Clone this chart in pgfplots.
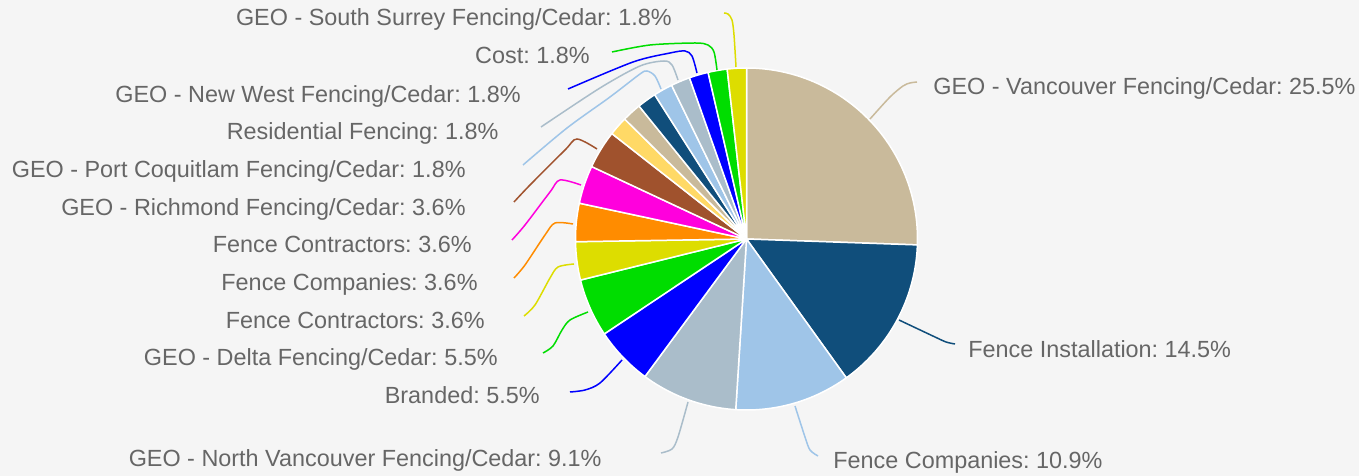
\documentclass[border=0pt]{standalone}
\usepackage{pgfplots}
\pgfplotsset{compat=1.18}
\usepackage{fontspec}
\setmainfont{Liberation Sans}
\frenchspacing
\definecolor{bgc}{HTML}{F5F5F5}
\definecolor{txt}{HTML}{666666}
\definecolor{sc0}{HTML}{C9BA9B}
\definecolor{sc1}{HTML}{104E7B}
\definecolor{sc2}{HTML}{9FC5E8}
\definecolor{sc3}{HTML}{AABDCA}
\definecolor{sc4}{HTML}{0000FF}
\definecolor{sc5}{HTML}{00DD00}
\definecolor{sc6}{HTML}{DDDD00}
\definecolor{sc7}{HTML}{FF8C00}
\definecolor{sc8}{HTML}{FF00DD}
\definecolor{sc9}{HTML}{A0522D}
\definecolor{sc10}{HTML}{FFD966}
\definecolor{sc11}{HTML}{C9BA9B}
\definecolor{sc12}{HTML}{104E7B}
\definecolor{sc13}{HTML}{9FC5E8}
\definecolor{sc14}{HTML}{AABDCA}
\definecolor{sc15}{HTML}{0000FF}
\definecolor{sc16}{HTML}{00DD00}
\definecolor{sc17}{HTML}{DDDD00}
\newcommand\lab{\fontsize{11.74}{14}\selectfont\frenchspacing}
% slice values (percent)
\newcommand\vals{25.5,14.5,10.9,9.1,5.5,5.5,3.6,3.6,3.6,3.6,1.8,1.8,1.8,1.8,1.8,1.8,1.8,1.8}
\begin{document}
\gdef\total{0}%
\foreach \v in \vals {\pgfmathsetmacro\nt{\total+\v}\xdef\total{\nt}}%
\gdef\cum{0}%
\foreach \v [count=\i from 0] in \vals {%
  \pgfmathsetmacro\s{90-3.6*(\cum*100/\total)}%
  \pgfmathsetmacro\nc{\cum+\v}%
  \pgfmathsetmacro\e{90-3.6*(\nc*100/\total)}%
  \expandafter\xdef\csname sa\i\endcsname{\s}%
  \expandafter\xdef\csname ea\i\endcsname{\e}%
  \xdef\cum{\nc}%
}%
\begin{tikzpicture}
\begin{axis}[
  x=0.5bp, y=0.5bp,
  xmin=0, xmax=1359, ymin=0, ymax=476,
  y dir=reverse,
  axis line style={draw=none},
  ticks=none,
  axis background/.style={fill=bgc},
  clip=false,
]
\pgfplotsinvokeforeach{0,...,17}{
  \addplot[fill=sc#1, draw=white, line width=0.75bp, line join=round,
    domain=\csname ea#1\endcsname:\csname sa#1\endcsname, samples=60]
    ({746.5+171*cos(x)},{239-171*sin(x)}) -- (axis cs:746.5,239) -- cycle;
}
% connectors
\addplot[sc0, line width=0.75bp, smooth] coordinates {(870,119) (890,97) (903,86) (910,83) (917,82)};
\addplot[sc1, line width=0.75bp, smooth] coordinates {(899,320) (935,337) (946,342) (955,344)};
\addplot[sc2, line width=0.75bp, smooth] coordinates {(795,406) (805,437) (810,450) (818,456)};
\addplot[sc3, line width=0.75bp, smooth] coordinates {(688,402) (678,437) (672,449) (661,453)};
\addplot[sc4, line width=0.75bp, smooth] coordinates {(622,360) (600,383) (585,390) (570,392)};
\addplot[sc5, line width=0.75bp, smooth] coordinates {(588,312) (570,320) (562,330) (553,346) (543,353)};
\addplot[sc6, line width=0.75bp, smooth] coordinates {(574,264) (558,267) (550,278) (535,305) (524,316)};
\addplot[sc7, line width=0.75bp, smooth] coordinates {(573,224) (555,223) (545,235) (525,265) (514,278)};
\addplot[sc8, line width=0.75bp, smooth] coordinates {(581,185) (560,180) (550,192) (525,225) (512,240)};
\addplot[sc9, line width=0.75bp, smooth] coordinates {(597,149) (577,139) (565,150) (530,185) (514,202)};
\addplot[sc13, line width=0.75bp, smooth] coordinates {(661,89) (655,76) (647,71) (640,74) (610,97) (567,128) (523,165)};
\addplot[sc14, line width=0.75bp, smooth] coordinates {(678,80) (672,65) (664,61) (640,66) (600,88) (541,127)};
\addplot[sc15, line width=0.75bp, smooth] coordinates {(697,73) (692,56) (685,51) (670,53) (633,62) (568,89)};
\addplot[sc16, line width=0.75bp, smooth] coordinates {(717,70) (714,52) (708,45) (695,43) (650,45) (612,52)};
\addplot[sc17, line width=0.75bp, smooth] coordinates {(736,67) (734,35) (732,20) (728,14) (724,13)};
% labels
\begin{scope}[every node/.style={font=\lab, text=txt, inner sep=0pt}]
\node[anchor=base west] at (axis cs:933,95) {GEO - Vancouver Fencing/Cedar: 25.5\%};
\node[anchor=base west] at (axis cs:968,358) {Fence Installation: 14.5\%};
\node[anchor=base west] at (axis cs:833,469) {Fence Companies: 10.9\%};
\node[anchor=base east] at (axis cs:602,467) {GEO - North Vancouver Fencing/Cedar: 9.1\%};
\node[anchor=base east] at (axis cs:540,404) {Branded: 5.5\%};
\node[anchor=base east] at (axis cs:498,366) {GEO - Delta Fencing/Cedar: 5.5\%};
\node[anchor=base east] at (axis cs:485,329) {Fence Contractors: 3.6\%};
\node[anchor=base east] at (axis cs:478,291) {Fence Companies: 3.6\%};
\node[anchor=base east] at (axis cs:472,253) {Fence Contractors: 3.6\%};
\node[anchor=base east] at (axis cs:466,216) {GEO - Richmond Fencing/Cedar: 3.6\%};
\node[anchor=base east] at (axis cs:466,178) {GEO - Port Coquitlam Fencing/Cedar: 1.8\%};
\node[anchor=base east] at (axis cs:499,140) {Residential Fencing: 1.8\%};
\node[anchor=base east] at (axis cs:521,103) {GEO - New West Fencing/Cedar: 1.8\%};
\node[anchor=base east] at (axis cs:590,64) {Cost: 1.8\%};
\node[anchor=base east] at (axis cs:672,26) {GEO - South Surrey Fencing/Cedar: 1.8\%};
\end{scope}
\end{axis}
\end{tikzpicture}
\end{document}
